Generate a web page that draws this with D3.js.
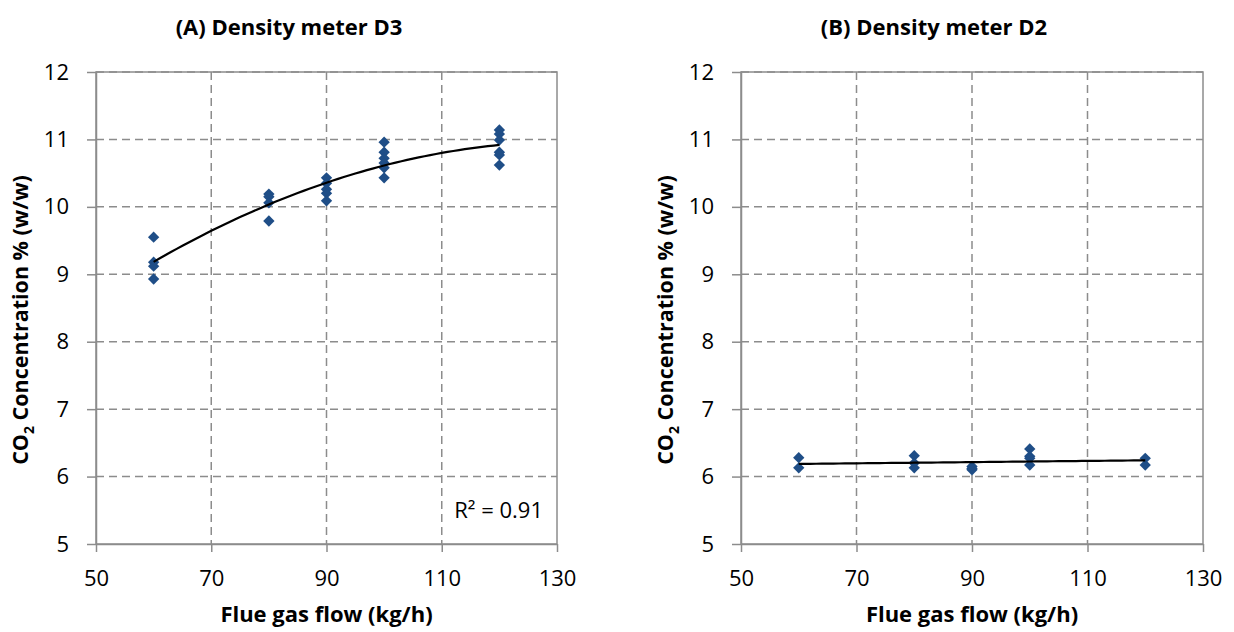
<!DOCTYPE html>
<html><head><meta charset="utf-8">
<script src="https://cdn.jsdelivr.net/npm/d3@7"></script>
<style>
body{margin:0;background:#fff;}
svg text{font-family:"Open Sans",sans-serif;fill:#000;}
</style></head>
<body><svg id="chart" width="1234" height="632"></svg>
<script>
// ---- data ----
const xTicks = [50, 70, 90, 110, 130];
const yTicks = [5, 6, 7, 8, 9, 10, 11, 12];
const flowA = [60,60,60,60, 80,80,80,80, 90,90,90,90,90, 100,100,100,100,100,100, 120,120,120,120,120,120];
const co2A  = [9.55,9.18,9.12,8.93, 10.19,10.15,10.06,9.79, 10.43,10.35,10.26,10.20,10.09, 10.96,10.81,10.72,10.65,10.58,10.43, 11.14,11.08,10.99,10.81,10.77,10.62];
const flowB = [60,60, 80,80,80, 90,90,90, 100,100,100,100, 120,120];
const co2B  = [6.28,6.13, 6.31,6.20,6.13, 6.15,6.12,6.10, 6.41,6.30,6.27,6.17, 6.27,6.17];
const titles = ["(A) Density meter D3", "(B) Density meter D2"];
const r2Label = "R² = 0.91";

const svg = d3.select("#chart");

// least squares polynomial fit (degree 1 or 2)
function polyfit(xs, ys, deg){
  const n = deg+1;
  const A = Array.from({length:n},()=>Array(n+1).fill(0));
  for(let k=0;k<xs.length;k++){
    for(let i=0;i<n;i++){
      for(let j=0;j<n;j++) A[i][j]+=Math.pow(xs[k],i+j);
      A[i][n]+=ys[k]*Math.pow(xs[k],i);
    }
  }
  for(let i=0;i<n;i++){
    let p=i; for(let r=i+1;r<n;r++) if(Math.abs(A[r][i])>Math.abs(A[p][i])) p=r;
    [A[i],A[p]]=[A[p],A[i]];
    for(let r=0;r<n;r++){ if(r===i) continue; const f=A[r][i]/A[i][i]; for(let c=i;c<=n;c++) A[r][c]-=f*A[i][c]; }
  }
  const coef = A.map((row,i)=>row[n]/row[i]);
  return x => coef.reduce((s,c,i)=>s+c*Math.pow(x,i),0);
}

function panel(left, right, xs, ys, deg, title, titleX, showR2){
  const top=72, bottom=544;
  const x = d3.scaleLinear().domain([50,130]).range([left,right]);
  const y = d3.scaleLinear().domain([5,12]).range([bottom,top]);
  const g = svg.append("g");
  // grid
  g.selectAll(".gx").data(xTicks.slice(1,-1)).join("line")
    .attr("x1",d=>x(d)).attr("x2",d=>x(d)).attr("y1",top).attr("y2",bottom)
    .attr("stroke","#8c8c8c").attr("stroke-width",1.5).attr("stroke-dasharray","8,5");
  g.selectAll(".gy").data(yTicks.slice(1)).join("line")
    .attr("x1",left).attr("x2",right).attr("y1",d=>y(d)).attr("y2",d=>y(d))
    .attr("stroke","#8c8c8c").attr("stroke-width",1.5).attr("stroke-dasharray","8,5");
  // border
  g.append("rect").attr("x",left).attr("y",top).attr("width",right-left).attr("height",bottom-top)
    .attr("fill","none").attr("stroke","#8c8c8c").attr("stroke-width",1.5);
  // axes
  const xa = g.append("g").attr("transform",`translate(0,${bottom})`)
    .call(d3.axisBottom(x).tickValues(xTicks).tickFormat(d3.format("d")).tickSize(8).tickPadding(18).tickSizeOuter(0));
  const ya = g.append("g").attr("transform",`translate(${left},0)`)
    .call(d3.axisLeft(y).tickValues(yTicks).tickFormat(d3.format("d")).tickSize(9).tickPadding(18).tickSizeOuter(0));
  [xa,ya].forEach(a=>{
    a.select(".domain").attr("stroke","#8c8c8c").attr("stroke-width",1.5);
    a.selectAll(".tick line").attr("stroke","#8c8c8c").attr("stroke-width",1.5);
    a.selectAll("text").attr("font-size",22).attr("font-family","'Open Sans', sans-serif");
  });
  // trend line
  const f = polyfit(xs, ys, deg);
  const xMin=d3.min(xs), xMax=d3.max(xs);
  const pts = d3.range(0,61).map(i=>xMin+(xMax-xMin)*i/60);
  // points
  const sym = d3.symbol().type(d3.symbolSquare).size(64);
  g.selectAll(".pt").data(xs.map((v,i)=>[v,ys[i]])).join("path")
    .attr("d",sym)
    .attr("transform",d=>`translate(${x(d[0])},${y(d[1])}) rotate(45)`)
    .attr("fill","#1f4e87");
  g.append("path").datum(pts)
    .attr("d", d3.line().x(d=>x(d)).y(d=>y(f(d))))
    .attr("fill","none").attr("stroke","#000").attr("stroke-width",2.2);
  // titles
  const cx=(left+right)/2;
  g.append("text").attr("x",titleX).attr("y",35).attr("text-anchor","middle")
    .attr("font-size",22).attr("font-weight","bold").text(title);
  g.append("text").attr("x",cx).attr("y",622).attr("text-anchor","middle")
    .attr("font-size",22).attr("font-weight","bold").text("Flue gas flow (kg/h)");
  const yt = g.append("text").attr("transform",`translate(${left-68},${(top+bottom)/2 + 12}) rotate(-90)`)
    .attr("text-anchor","middle").attr("font-size",21.5).attr("font-weight","bold");
  yt.append("tspan").text("CO");
  yt.append("tspan").attr("font-size",14).attr("dy",6).text("2");
  yt.append("tspan").attr("dy",-6).text(" Concentration % (w/w)");
  if(showR2){
    g.append("text").attr("x",right-14).attr("y",518).attr("text-anchor","end")
      .attr("font-size",22).text(r2Label);
  }
}
panel(96, 557, flowA, co2A, 2, titles[0], 289, true);
panel(741, 1203, flowB, co2B, 1, titles[1], 934, false);
</script></body></html>
